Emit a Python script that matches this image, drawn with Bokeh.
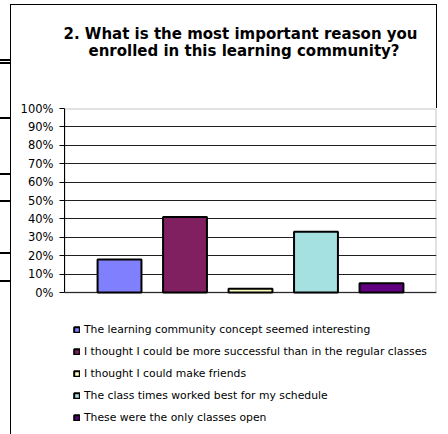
from bokeh.plotting import figure
from bokeh.models import (ColumnDataSource, Range1d, FixedTicker, NumeralTickFormatter,
                          Legend, LegendItem, Title, BoxAnnotation)
from bokeh.embed import file_html
from bokeh.resources import INLINE

# ---- data ----
title_lines = ["2.  What is the most important reason you",
               "enrolled in this learning community?"]
reasons = [
    "The learning community concept seemed interesting",
    "I thought I could be more successful than in the regular classes",
    "I thought I could make friends",
    "The class times worked best for my schedule",
    "These were the only classes open",
]
shares = [0.18, 0.41, 0.02, 0.33, 0.05]
colors = ["#8080FF", "#802060", "#FFFFC0", "#A6E1E1", "#600080"]
y_ticks = [0.0, 0.1, 0.2, 0.3, 0.4, 0.5, 0.6, 0.7, 0.8, 0.9, 1.0]

source = ColumnDataSource(dict(
    x=list(range(len(reasons))),
    top=shares,
    color=colors,
    label=reasons,
))

# plot area: 0..100% over 184px; the frame continues below it to hold the legend
px_per_unit = 184.0
legend_space = 142.0
x_start, x_end = -0.84, len(reasons) - 1 + 0.84

p = figure(width=448, height=434, output_backend="svg", toolbar_location=None,
           x_range=Range1d(x_start, x_end),
           y_range=Range1d(-legend_space / px_per_unit, 1),
           min_border_left=64, min_border_right=12, min_border_top=108, min_border_bottom=0)
p.background_fill_color = "white"
p.border_fill_alpha = 0
p.outline_line_color = None

# chart-area box of the original picture (decoration drawn by CSS behind the canvas)
boxes = [(10, 4, 1, 430), (10, 4, 427, 1), (436, 4, 1, 104),
         (0, 59, 10, 2), (0, 62, 10, 2), (0, 117, 10, 2), (0, 173, 10, 2),
         (0, 200, 10, 2), (0, 252, 10, 2), (0, 280, 10, 2)]
p.styles = {
    "background-color": "white",
    "background-image": ", ".join(["linear-gradient(#000, #000)"] * len(boxes)),
    "background-size": ", ".join(f"{w}px {h}px" for _, _, w, h in boxes),
    "background-position": ", ".join(f"{x}px {y}px" for x, y, _, _ in boxes),
    "background-repeat": "no-repeat",
}

title_kw = dict(text_font="DejaVu Sans", text_font_style="bold", text_font_size="15px",
                text_color="black", align="left")
# spacer between title and plot area (nearest the frame first)
p.add_layout(Title(text=" ", standoff=29, **title_kw), "above")
p.add_layout(Title(text=title_lines[1], standoff=0, offset=24, **title_kw), "above")
p.add_layout(Title(text=title_lines[0], standoff=-6, offset=-1, **title_kw), "above")

# plot-area border
p.add_layout(BoxAnnotation(left=x_start, right=x_end, bottom=0, top=1,
                           fill_alpha=0, line_color="#404040", line_width=2,
                           level="underlay"))

r = p.vbar(x="x", top="top", width=0.67, fill_color="color", line_color="black",
           line_width=2, source=source)

p.xaxis.visible = False
p.xgrid.visible = False

yax = p.yaxis[0]
ticker = FixedTicker(ticks=y_ticks)
yax.ticker = ticker
yax.bounds = (0, 1)
p.ygrid.ticker = ticker
p.ygrid.grid_line_color = "#202020"
p.ygrid.grid_line_width = 1
yax.formatter = NumeralTickFormatter(format="0%")
yax.major_tick_out = 5
yax.major_tick_in = 0
yax.minor_tick_out = 0
yax.minor_tick_in = 0
yax.axis_line_color = "black"
yax.major_tick_line_color = "black"
yax.major_label_standoff = 6
yax.major_label_text_font = "DejaVu Sans"
yax.major_label_text_font_size = "11.5px"
yax.major_label_text_color = "black"

legend = Legend(items=[LegendItem(label=dict(field="label"), renderers=[r])],
                location=(9, 10), orientation="vertical",
                glyph_width=7, glyph_height=7, label_height=7, label_standoff=4,
                spacing=9, padding=0, margin=0,
                border_line_color=None, background_fill_alpha=0,
                label_text_font="DejaVu Sans", label_text_font_size="10.8px",
                label_text_color="black")
p.add_layout(legend, "center")

open("out.html", "w").write(file_html(p, INLINE))
